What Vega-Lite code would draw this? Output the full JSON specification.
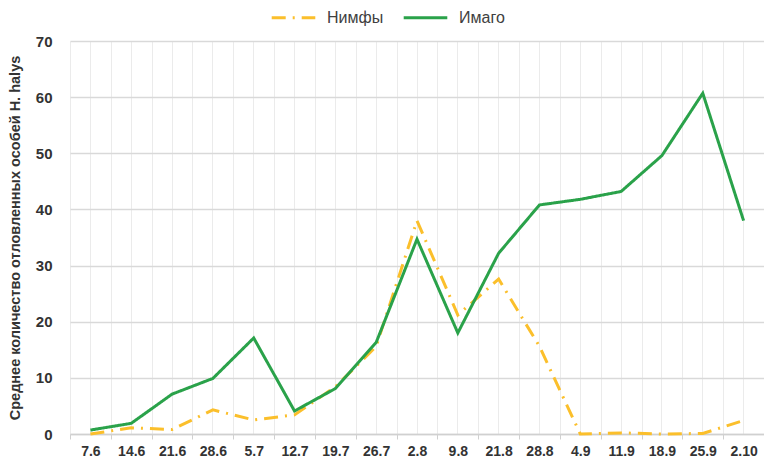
{
  "$schema": "https://vega.github.io/schema/vega-lite/v6.json",
  "width": 694,
  "height": 393,
  "autosize": {"type": "none"},
  "padding": {"left": 70, "top": 41, "right": 0, "bottom": 32},
  "background": "white",
  "config": {
    "view": {"stroke": null},
    "font": "Liberation Sans"
  },
  "data": {
    "values": [
      {"date": "7.6", "series": "Нимфы", "value": 0},
      {"date": "14.6", "series": "Нимфы", "value": 1.1},
      {"date": "21.6", "series": "Нимфы", "value": 0.8},
      {"date": "28.6", "series": "Нимфы", "value": 4.3},
      {"date": "5.7", "series": "Нимфы", "value": 2.5},
      {"date": "12.7", "series": "Нимфы", "value": 3.4},
      {"date": "19.7", "series": "Нимфы", "value": 8.4},
      {"date": "26.7", "series": "Нимфы", "value": 15.6},
      {"date": "2.8", "series": "Нимфы", "value": 38.0},
      {"date": "9.8", "series": "Нимфы", "value": 21.2},
      {"date": "21.8", "series": "Нимфы", "value": 27.6},
      {"date": "28.8", "series": "Нимфы", "value": 15.6},
      {"date": "4.9", "series": "Нимфы", "value": 0},
      {"date": "11.9", "series": "Нимфы", "value": 0.2},
      {"date": "18.9", "series": "Нимфы", "value": 0},
      {"date": "25.9", "series": "Нимфы", "value": 0.1},
      {"date": "2.10", "series": "Нимфы", "value": 2.4},
      {"date": "7.6", "series": "Имаго", "value": 0.7},
      {"date": "14.6", "series": "Имаго", "value": 1.9},
      {"date": "21.6", "series": "Имаго", "value": 7.1},
      {"date": "28.6", "series": "Имаго", "value": 9.9},
      {"date": "5.7", "series": "Имаго", "value": 17.1},
      {"date": "12.7", "series": "Имаго", "value": 4.1},
      {"date": "19.7", "series": "Имаго", "value": 8.1},
      {"date": "26.7", "series": "Имаго", "value": 16.3},
      {"date": "2.8", "series": "Имаго", "value": 34.7},
      {"date": "9.8", "series": "Имаго", "value": 18.0},
      {"date": "21.8", "series": "Имаго", "value": 32.2},
      {"date": "28.8", "series": "Имаго", "value": 40.8},
      {"date": "4.9", "series": "Имаго", "value": 41.8},
      {"date": "11.9", "series": "Имаго", "value": 43.2},
      {"date": "18.9", "series": "Имаго", "value": 49.6},
      {"date": "25.9", "series": "Имаго", "value": 60.7},
      {"date": "2.10", "series": "Имаго", "value": 38.0}
    ]
  },
  "resolve": {"axis": {"x": "independent"}},
  "encoding": {
    "y": {
      "field": "value",
      "type": "quantitative",
      "scale": {"domain": [0, 70]},
      "axis": {
        "values": [0, 10, 20, 30, 40, 50, 60, 70],
        "title": "Среднее количество отловленных особей H. halys",
        "titleFont": "Liberation Sans",
        "titleFontSize": 14.5,
        "titleFontWeight": "bold",
        "titleColor": "#333333",
        "titlePadding": 13,
        "domain": false,
        "ticks": false,
        "grid": true,
        "gridColor": "#d9d9d9",
        "gridWidth": 1.5,
        "labelFont": "Liberation Sans",
        "labelFontWeight": "bold",
        "labelFontSize": 15,
        "labelColor": "#333333",
        "labelPadding": 18
      }
    }
  },
  "layer": [
    {
      "mark": {"type": "line", "opacity": 0},
      "encoding": {
        "x": {
          "field": "date",
          "type": "ordinal",
          "scale": {"type": "band", "domain": ["7.6","14.6","21.6","28.6","5.7","12.7","19.7","26.7","2.8","9.8","21.8","28.8","4.9","11.9","18.9","25.9","2.10"], "paddingInner": 0, "paddingOuter": 0},
          "axis": {"orient": "top", "title": null, "grid": true, "gridColor": "#ebebeb", "gridWidth": 1, "labels": false, "ticks": false, "domain": false}
        },
        "detail": {"field": "series"}
      }
    },
    {
      "mark": {"type": "line", "strokeWidth": 3},
      "encoding": {
        "x": {
          "field": "date",
          "type": "ordinal",
          "scale": {"type": "band", "domain": ["7.6","14.6","21.6","28.6","5.7","12.7","19.7","26.7","2.8","9.8","21.8","28.8","4.9","11.9","18.9","25.9","2.10"], "paddingInner": 0, "paddingOuter": 0},
          "axis": {
            "orient": "bottom",
            "title": null,
            "labelAngle": 0,
            "grid": true,
            "gridColor": "#ebebeb",
            "gridWidth": 1,
            "tickBand": "extent",
            "tickColor": "#d0d0d0",
            "tickSize": 5,
            "domainColor": "#d0d0d0",
            "domainWidth": 1.5,
            "labelFont": "Liberation Sans",
            "labelFontWeight": "bold",
            "labelFontSize": 14,
            "labelColor": "#333333",
            "labelPadding": 5
          }
        },
        "color": {
          "field": "series",
          "type": "nominal",
          "scale": {"domain": ["Нимфы", "Имаго"], "range": ["#FBBF2B", "#2AA24A"]},
          "legend": {
            "title": null,
            "orient": "none",
            "legendX": 200,
            "legendY": -47,
            "direction": "horizontal",
            "symbolType": "stroke",
            "symbolSize": 1900,
            "symbolStrokeWidth": 3,
            "labelFont": "Liberation Sans",
            "labelFontSize": 16,
            "labelColor": "#404040",
            "labelOffset": 10,
            "columnPadding": 13
          }
        },
        "strokeDash": {
          "field": "series",
          "type": "nominal",
          "scale": {"domain": ["Нимфы", "Имаго"], "range": [[14, 7, 2, 7], [1, 0]]},
          "legend": {
            "title": null,
            "orient": "none",
            "legendX": 200,
            "legendY": -47,
            "direction": "horizontal",
            "symbolType": "stroke",
            "symbolSize": 1900,
            "symbolStrokeWidth": 3,
            "labelFont": "Liberation Sans",
            "labelFontSize": 16,
            "labelColor": "#404040",
            "labelOffset": 10,
            "columnPadding": 13
          }
        }
      }
    }
  ]
}
